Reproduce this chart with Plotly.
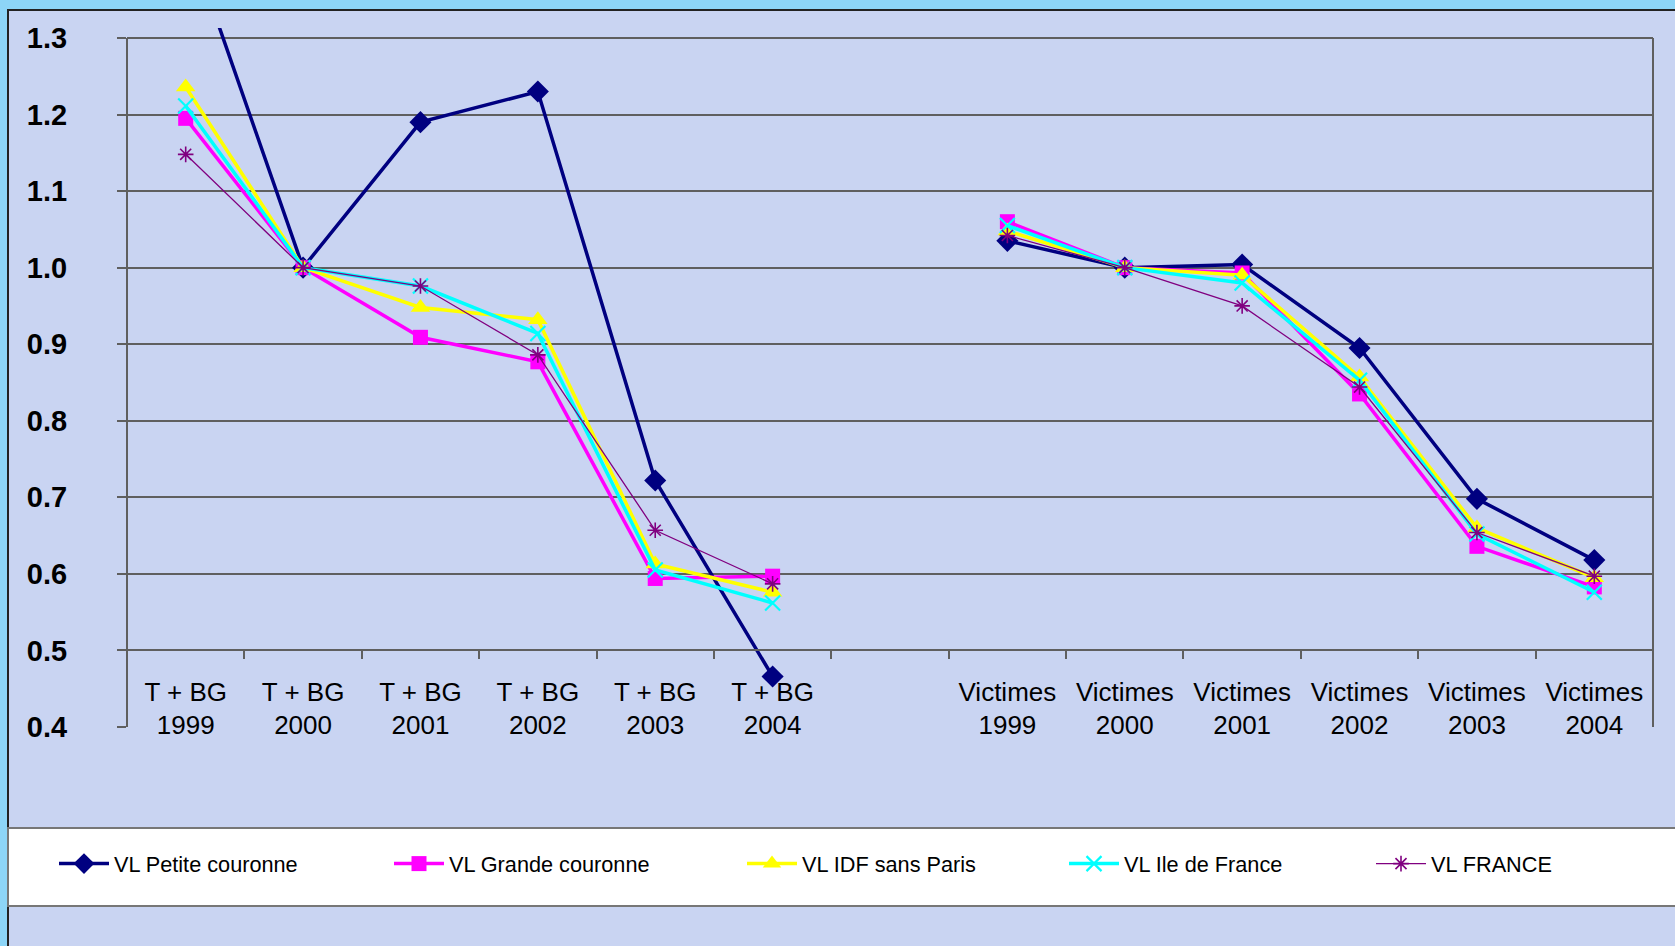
import plotly.graph_objects as go

years = ["1999", "2000", "2001", "2002", "2003", "2004"]
group_tbg = "T + BG"
group_vic = "Victimes"
gap_label = " "

series_names = ["VL Petite couronne", "VL Grande couronne", "VL IDF sans Paris",
                "VL Ile de France", "VL FRANCE"]

petite_tbg = [1.44, 1.00, 1.19, 1.23, 0.722, 0.466]
petite_vic = [1.035, 1.00, 1.004, 0.895, 0.698, 0.618]
grande_tbg = [1.195, 1.00, 0.909, 0.877, 0.594, 0.597]
grande_vic = [1.06, 1.00, 0.993, 0.835, 0.636, 0.583]
idf_tbg = [1.236, 1.00, 0.948, 0.932, 0.613, 0.576]
idf_vic = [1.048, 1.00, 0.99, 0.857, 0.66, 0.595]
ile_tbg = [1.211, 1.00, 0.976, 0.914, 0.605, 0.562]
ile_vic = [1.055, 1.00, 0.98, 0.853, 0.652, 0.576]
france_tbg = [1.148, 1.00, 0.976, 0.886, 0.657, 0.587]
france_vic = [1.042, 1.00, 0.95, 0.844, 0.654, 0.597]

y_ticks = [0.4, 0.5, 0.6, 0.7, 0.8, 0.9, 1.0, 1.1, 1.2, 1.3]

categories = ([f"{group_tbg}<br>{y}" for y in years] + [gap_label]
              + [f"{group_vic}<br>{y}" for y in years])

W, H = 1675, 946
ML, MR, MT, MB = 127, 22, 28, 219
PW = W - ML - MR
PH = H - MT - MB
Y_MIN, Y_MAX = 0.4, 1.313


def px_x(p):
    return (p - ML) / PW


def px_y(p):
    return (H - MB - p) / PH


styles = [
    dict(color="#000080", lw=3.5, symbol="diamond", size=17, mline=dict(width=0)),
    dict(color="#ff00ff", lw=3.5, symbol="square", size=15, mline=dict(width=0)),
    dict(color="#ffff00", lw=3.5, symbol="triangle-up", size=17, mline=dict(width=0)),
    dict(color="#00ffff", lw=3.5, symbol="x-thin", size=15, mline=dict(width=2.2, color="#00ffff")),
    dict(color="#800080", lw=1.3, symbol="asterisk-open", size=13, mline=dict(width=1.6, color="#800080")),
]
data = [
    (petite_tbg, petite_vic),
    (grande_tbg, grande_vic),
    (idf_tbg, idf_vic),
    (ile_tbg, ile_vic),
    (france_tbg, france_vic),
]
legend_keys = ["legend", "legend2", "legend3", "legend4", "legend5"]
legend_text_px = [114, 449, 802, 1124, 1431]
ITEM_W = 50

fig = go.Figure()
for name, (a, b), st, lk in zip(series_names, data, styles, legend_keys):
    fig.add_trace(go.Scatter(
        x=categories, y=a + [None] + b, name=name, mode="lines+markers",
        connectgaps=False, legend=lk,
        line=dict(color=st["color"], width=st["lw"]),
        marker=dict(symbol=st["symbol"], size=st["size"], color=st["color"], line=st["mline"]),
        cliponaxis=True,
    ))

axis_pos = (0.5 - Y_MIN) / (Y_MAX - Y_MIN)

layout_legends = {}
for lk, tx in zip(legend_keys, legend_text_px):
    layout_legends[lk] = dict(
        x=px_x(tx - ITEM_W - 10), xanchor="left", y=px_y(864), yanchor="middle",
        orientation="h", bgcolor="rgba(0,0,0,0)", borderwidth=0,
        font=dict(family="Liberation Sans, Arial", size=21.7, color="#000000"),
        itemwidth=ITEM_W,
    )

grid_col = "#5f5f5f"
fig.update_layout(
    width=W, height=H,
    margin=dict(l=ML, r=MR, t=MT, b=MB, pad=0),
    paper_bgcolor="#8dd5f7",
    plot_bgcolor="rgba(0,0,0,0)",
    showlegend=True,
    xaxis=dict(
        type="category", categoryorder="array", categoryarray=categories,
        range=[-0.5, 12.5], anchor="free", position=axis_pos,
        showline=True, linecolor=grid_col, linewidth=2,
        ticks="outside", ticklen=8, tickwidth=1.5, tickcolor=grid_col,
        tickson="boundaries", showgrid=False, ticklabelstandoff=18,
        tickfont=dict(family="Liberation Sans, Arial", size=26, color="#000000"),
        fixedrange=True,
    ),
    yaxis=dict(
        range=[Y_MIN, Y_MAX], tickvals=y_ticks,
        ticktext=[f"{v:.1f}" for v in y_ticks],
        showgrid=True, gridcolor=grid_col, gridwidth=1.8,
        showline=False, zeroline=False,
        ticks="outside", ticklen=9, tickwidth=1.5, tickcolor=grid_col,
        ticklabelstandoff=44,
        tickfont=dict(family="Liberation Sans, Arial", size=29, color="#000000", weight="bold"),
        fixedrange=True,
    ),
    shapes=[
        dict(type="rect", xref="paper", yref="paper", x0=px_x(8), x1=1.2,
             y0=-0.6, y1=px_y(10), fillcolor="#c9d4f2",
             line=dict(color="#222222", width=2), layer="below"),
        dict(type="rect", xref="paper", yref="paper", x0=px_x(8), x1=1.2,
             y0=px_y(906), y1=px_y(828), fillcolor="#ffffff",
             line=dict(color="#777777", width=2), layer="below"),
        dict(type="line", xref="paper", yref="y", x0=0, x1=0, y0=0.4, y1=1.3,
             line=dict(color=grid_col, width=2), layer="above"),
        dict(type="line", xref="paper", yref="y", x0=1, x1=1, y0=0.4, y1=1.3,
             line=dict(color=grid_col, width=2), layer="above"),
    ],
    **layout_legends,
)

fig.write_html(
    "out.html",
    config={"displayModeBar": False},
    post_script="document.body.style.margin='0';document.body.style.background='#8dd5f7';",
)
